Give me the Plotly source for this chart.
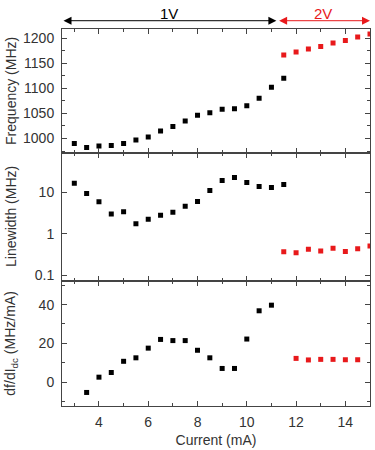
import plotly.graph_objects as go
from plotly.subplots import make_subplots

# ---- data ----
freq_black_x = [3.0, 3.5, 4.0, 4.5, 5.0, 5.5, 6.0, 6.5, 7.0, 7.5, 8.0, 8.5, 9.0, 9.5, 10.0, 10.5, 11.0, 11.5]
freq_black_y = [990, 982, 985, 986, 990, 997, 1003, 1015, 1024, 1035, 1046, 1051, 1058, 1059, 1065, 1080, 1102, 1120]
freq_red_x = [11.5, 12.0, 12.5, 13.0, 13.5, 14.0, 14.5, 15.0]
freq_red_y = [1166, 1172, 1178, 1183, 1190, 1195, 1202, 1208]

lw_black_x = freq_black_x
lw_black_y = [16.4, 9.3, 5.9, 3.0, 3.4, 1.74, 2.25, 2.8, 3.3, 4.6, 6.0, 11, 19, 22.5, 17, 13.7, 12.9, 15.3]
lw_red_x = freq_red_x
lw_red_y = [0.37, 0.35, 0.43, 0.39, 0.45, 0.38, 0.44, 0.51]

dfdi_black_x = [3.5, 4.0, 4.5, 5.0, 5.5, 6.0, 6.5, 7.0, 7.5, 8.0, 8.5, 9.0, 9.5, 10.0, 10.5, 11.0]
dfdi_black_y = [-5.4, 2.5, 4.9, 10.7, 12.5, 17.5, 22, 21.4, 21.4, 16.4, 12.5, 7, 7, 22.2, 36.8, 39.7]
dfdi_red_x = [12.0, 12.5, 13.0, 13.5, 14.0, 14.5]
dfdi_red_y = [12.2, 11.4, 11.7, 11.7, 11.5, 11.5]

BLACK = "#000000"
RED = "#e8191b"
TXT = "#333333"
LINE = "#444444"
FONT = "Liberation Sans, Arial, sans-serif"

fig = make_subplots(rows=3, cols=1, shared_xaxes=True, vertical_spacing=0)

def add(x, y, color, row):
    fig.add_trace(go.Scatter(x=x, y=y, mode="markers",
                             marker=dict(symbol="square", size=5, color=color, line=dict(width=0)),
                             showlegend=False, hoverinfo="skip"), row=row, col=1)

add(freq_black_x, freq_black_y, BLACK, 1)
add(freq_red_x, freq_red_y, RED, 1)
add(lw_black_x, lw_black_y, BLACK, 2)
add(lw_red_x, lw_red_y, RED, 2)
add(dfdi_black_x, dfdi_black_y, BLACK, 3)
add(dfdi_red_x, dfdi_red_y, RED, 3)

axis_common = dict(showline=True, linecolor=LINE, linewidth=1, mirror="allticks",
                   ticks="inside", ticklen=5, tickcolor=LINE, tickwidth=1,
                   showgrid=False, zeroline=False,
                   tickfont=dict(size=14, color=TXT, family=FONT))

xcommon = dict(axis_common, range=[2.5, 15], tick0=0, dtick=2,
               minor=dict(ticks="inside", ticklen=3, dtick=1, tick0=0, tickcolor=LINE, showgrid=False))

fig.update_xaxes(**xcommon)
fig.update_xaxes(showticklabels=False, row=1, col=1)
fig.update_xaxes(showticklabels=False, row=2, col=1)
fig.update_xaxes(ticklabelstandoff=3, title=dict(text="Current (mA)", font=dict(size=14, color=TXT, family=FONT), standoff=6), row=3, col=1)

fig.update_yaxes(**axis_common)
fig.update_yaxes(range=[972, 1218], tick0=0, dtick=50,
                 minor=dict(ticks="inside", ticklen=3, dtick=25, tick0=0, tickcolor=LINE, showgrid=False),
                 domain=[0.6724, 1.0], ticklabelstandoff=4, row=1, col=1)
fig.update_yaxes(type="log", range=[-1.13, 1.95], tickvals=[0.1, 1, 10], ticktext=["0.1", "1", "10"],
                 domain=[0.3316, 0.6724], ticklabelstandoff=4, row=2, col=1)
fig.update_yaxes(range=[-12.4, 52.2], tick0=0, dtick=20,
                 minor=dict(ticks="inside", ticklen=3, dtick=10, tick0=0, tickcolor=LINE, showgrid=False),
                 domain=[0.0, 0.3316], ticklabelstandoff=4, row=3, col=1)

ytitles = [("Frequency (MHz)", (0.6724 + 1.0) / 2),
           ("Linewidth (MHz)", (0.3316 + 0.6724) / 2),
           ("df/dI<sub>dc</sub> (MHz/mA)", 0.3316 / 2)]
for txt, yc in ytitles:
    fig.add_annotation(text=txt, xref="paper", yref="paper", x=-0.165, y=yc,
                       xanchor="center", yanchor="middle", textangle=-90, showarrow=False,
                       font=dict(size=14, color=TXT, family=FONT))

# voltage range arrows
split = 11.2
fig.add_annotation(x=split, y=1.022, xref="x", yref="paper", ax=2.5, ay=0, axref="x", ayref="pixel",
                   showarrow=True, arrowhead=2, arrowside="end+start", arrowsize=1.6, arrowwidth=1,
                   arrowcolor=BLACK, text="", standoff=0, startstandoff=0)
fig.add_annotation(x=15, y=1.022, xref="x", yref="paper", ax=split + 0.05, ay=0, axref="x", ayref="pixel",
                   showarrow=True, arrowhead=2, arrowside="end+start", arrowsize=1.6, arrowwidth=1,
                   arrowcolor=RED, text="", standoff=0, startstandoff=0)
fig.add_annotation(x=(2.5 + split) / 2, y=1.042, xref="x", yref="paper", text="1V", showarrow=False,
                   xanchor="center", yanchor="middle", font=dict(size=15, color=BLACK, family=FONT))
fig.add_annotation(x=(split + 15) / 2, y=1.042, xref="x", yref="paper", text="2V", showarrow=False,
                   xanchor="center", yanchor="middle", font=dict(size=15, color=RED, family=FONT))

fig.update_layout(width=375, height=450, margin=dict(l=62, r=4, t=29, b=41),
                  paper_bgcolor="white", plot_bgcolor="white",
                  font=dict(family=FONT, color=TXT, size=14))

fig.write_html("out.html")
